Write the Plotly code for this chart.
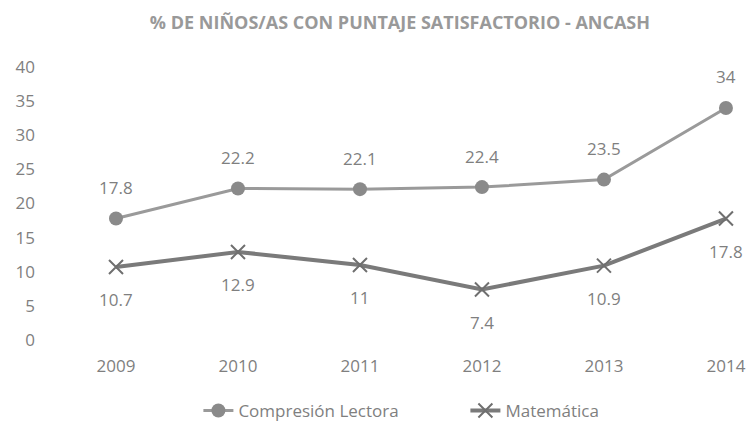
import plotly.graph_objects as go

years = ["2009", "2010", "2011", "2012", "2013", "2014"]
compresion = [17.8, 22.2, 22.1, 22.4, 23.5, 34]
matematica = [10.7, 12.9, 11, 7.4, 10.9, 17.8]
comp_labels = ["17.8", "22.2", "22.1", "22.4", "23.5", "34"]
mat_labels = ["10.7", "12.9", "11", "7.4", "10.9", "17.8"]
y_ticks = [0, 5, 10, 15, 20, 25, 30, 35, 40]

xs = list(range(len(years)))
FONT = "Open Sans"
TXT = "#7f7f7f"

fig = go.Figure()
fig.add_trace(go.Scatter(
    x=xs, y=compresion, name="Compresión Lectora", mode="lines+markers",
    line=dict(color="#9a9a9a", width=3),
    marker=dict(symbol="circle", size=14, color="#8a8a8a"),
    cliponaxis=False,
))
fig.add_trace(go.Scatter(
    x=xs, y=matematica, name="Matemática", mode="lines+markers",
    line=dict(color="#7a7a7a", width=4),
    marker=dict(symbol="x-thin", size=14, color="#6f6f6f",
                line=dict(color="#6f6f6f", width=2)),
    cliponaxis=False,
))

for x, y, t in zip(xs, compresion, comp_labels):
    fig.add_annotation(x=x, y=y, text=t, showarrow=False, yshift=31,
                       font=dict(family=FONT, size=17, color=TXT))
for x, y, t in zip(xs, matematica, mat_labels):
    fig.add_annotation(x=x, y=y, text=t, showarrow=False, yshift=-33,
                       font=dict(family=FONT, size=17, color=TXT))

fig.update_layout(
    width=749, height=428,
    margin=dict(l=40, r=5, t=67, b=88),
    paper_bgcolor="white", plot_bgcolor="white",
    font=dict(family=FONT, color=TXT, size=17),
    title=dict(text="<b>% DE NIÑOS/AS CON PUNTAJE SATISFACTORIO - ANCASH</b>",
               x=0.534, xanchor="center", y=0.948, yanchor="middle",
               font=dict(family=FONT, size=18, color="#999999")),
    showlegend=True,
    legend=dict(orientation="h", x=0.225, xanchor="left",
                yref="container", y=0.04, yanchor="middle",
                font=dict(family=FONT, size=17, color=TXT),
                entrywidth=222, entrywidthmode="pixels"),
    xaxis=dict(range=[-0.623, 5.148], tickvals=xs, ticktext=years,
               showgrid=False, zeroline=False, showline=False, automargin=False,
               ticklabelstandoff=14, tickfont=dict(family=FONT, size=17, color=TXT)),
    yaxis=dict(range=[0, 40], tickvals=y_ticks, showgrid=False, zeroline=False,
               showline=False, automargin=False, ticklabelstandoff=4,
               tickfont=dict(family=FONT, size=17, color=TXT)),
)

fig.write_html("out.html", config={"displayModeBar": False},
               post_script="document.body.style.margin='0';")
